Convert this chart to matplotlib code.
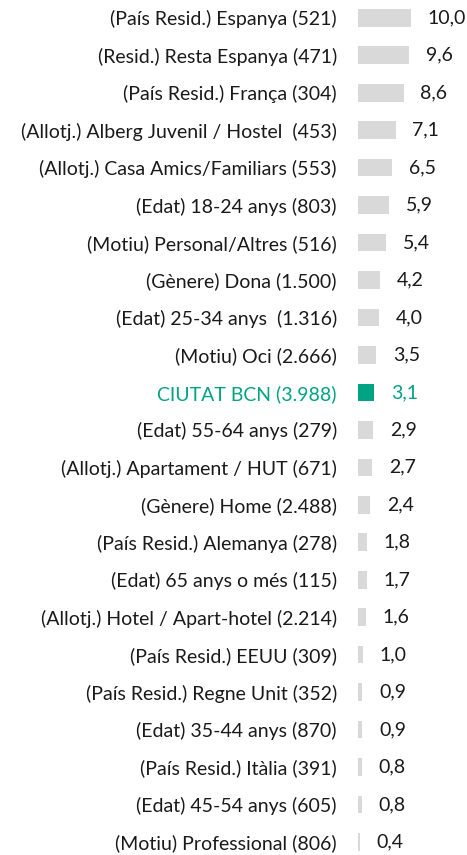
import matplotlib
matplotlib.use("Agg")
import matplotlib.pyplot as plt

plt.rcParams["font.family"] = ["Lato", "DejaVu Sans"]

labels = [
    "(País Resid.) Espanya (521)",
    "(Resid.) Resta Espanya (471)",
    "(País Resid.) França (304)",
    "(Allotj.) Alberg Juvenil / Hostel  (453)",
    "(Allotj.) Casa Amics/Familiars (553)",
    "(Edat) 18-24 anys (803)",
    "(Motiu) Personal/Altres (516)",
    "(Gènere) Dona (1.500)",
    "(Edat) 25-34 anys  (1.316)",
    "(Motiu) Oci (2.666)",
    "CIUTAT BCN (3.988)",
    "(Edat) 55-64 anys (279)",
    "(Allotj.) Apartament / HUT (671)",
    "(Gènere) Home (2.488)",
    "(País Resid.) Alemanya (278)",
    "(Edat) 65 anys o més (115)",
    "(Allotj.) Hotel / Apart-hotel (2.214)",
    "(País Resid.) EEUU (309)",
    "(País Resid.) Regne Unit (352)",
    "(Edat) 35-44 anys (870)",
    "(País Resid.) Itàlia (391)",
    "(Edat) 45-54 anys (605)",
    "(Motiu) Professional (806)",
]
values = [10.0, 9.6, 8.6, 7.1, 6.5, 5.9, 5.4, 4.2, 4.0, 3.5, 3.1, 2.9, 2.7,
          2.4, 1.8, 1.7, 1.6, 1.0, 0.9, 0.9, 0.8, 0.8, 0.4]
highlight = "CIUTAT BCN (3.988)"

W, H = 467, 855
grey = "#D9D9D9"
teal = "#00A383"
text_col = "#1A1A1A"

fig = plt.figure(figsize=(W / 100, H / 100), dpi=100)
x0 = 357.7
ax = fig.add_axes([x0 / W, 0, 1 - x0 / W, 1])

colors = [teal if l == highlight else grey for l in labels]
ypos = list(range(len(labels)))
ax.barh(ypos, values, height=0.47, color=colors)

px_per_unit = 5.33
ax.set_xlim(0, (W - x0) / px_per_unit)
top = -17.8 / 37.46
bottom = (H - 17.8) / 37.46
ax.set_ylim(bottom, top)

ax.set_yticks(ypos)
ax.set_yticklabels(labels, fontsize=14)
ax.tick_params(axis="y", length=0, pad=15)
ax.set_xticks([])
for t, l in zip(ax.get_yticklabels(), labels):
    t.set_color(teal if l == highlight else text_col)

for y, v, l in zip(ypos, values, labels):
    ax.annotate(f"{v:.1f}".replace(".", ","), (v, y), xytext=(12, 0),
                textcoords="offset points", va="center", ha="left",
                fontsize=14, color=teal if l == highlight else text_col)

for s in ax.spines.values():
    s.set_visible(False)

fig.savefig("out.png", dpi=100)
